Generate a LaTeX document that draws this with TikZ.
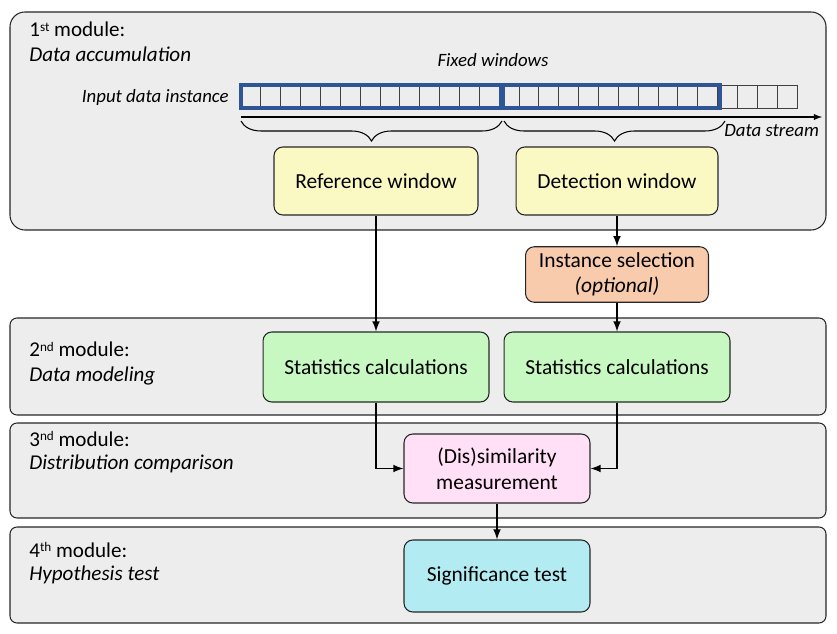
\documentclass[tikz,border=0pt]{standalone}
\usepackage{fontspec}
\setmainfont{Carlito}
\usetikzlibrary{decorations.pathreplacing}

\definecolor{modgray}{RGB}{237,237,237}
\definecolor{winblue}{RGB}{47,85,151}
\definecolor{refyellow}{RGB}{250,249,196}
\definecolor{selpeach}{RGB}{248,203,173}
\definecolor{statgreen}{RGB}{199,248,193}
\definecolor{dispink}{RGB}{255,224,246}
\definecolor{sigcyan}{RGB}{178,235,242}

\newcommand{\modsup}[1]{\raisebox{0.55ex}{\fontsize{7.5}{8}\selectfont #1}}

\tikzset{
    modbox/.style={draw=black!85, fill=modgray, line width=0.6pt},
    procbox/.style={draw=black!85, line width=0.6pt, rounded corners=5pt,
        align=center, font=\fontsize{12.2}{14.5}\selectfont},
    modtext/.style={anchor=base west, inner sep=0pt, font=\fontsize{12}{14}\selectfont},
    smalltext/.style={inner sep=0pt, font=\fontsize{10.7}{12}\selectfont\itshape},
    flow/.style={line width=1pt, -latex}
}

\begin{document}
\begin{tikzpicture}[x=0.02cm, y=-0.02cm]
\useasboundingbox (0,0) rectangle (837,634);

% module frames
\draw[modbox, rounded corners=8.5pt] (10,12) rectangle (826,230);
\draw[modbox, rounded corners=4pt] (10,318) rectangle (826,415);
\draw[modbox, rounded corners=4pt] (10,423) rectangle (826,518);
\draw[modbox, rounded corners=4pt] (10,527) rectangle (826,623);

\node[modtext] (m1a) at (29,37) {1\modsup{st} module:};
\node[modtext] (m1b) at (29,62) {\itshape Data accumulation};
\node[modtext] (m2a) at (29,357) {2\modsup{nd} module:};
\node[modtext] (m2b) at (29,381) {\itshape Data modeling};
\node[modtext] (m3a) at (29,446) {3\modsup{nd} module:};
\node[modtext] (m3b) at (29,469) {\itshape Distribution comparison};
\node[modtext] (m4a) at (29,557) {4\modsup{th} module:};
\node[modtext] (m4b) at (29,580) {\itshape Hypothesis test};

% data stream
\foreach \i in {0,...,27}
    \draw[draw=black!75, line width=0.5pt] ({241+\i*19.86},85) rectangle ++(19.86,23);
\draw[draw=winblue, line width=2.2pt] (241,85) rectangle (501,108);
\draw[draw=winblue, line width=2.2pt] (503,85) rectangle (720,108);

\node[smalltext, anchor=base east] (inp) at (229,103) {Input data instance};
\node[smalltext, anchor=base] (fix) at (493,67) {Fixed windows};
\node[smalltext, anchor=base west] (strm) at (724,137) {Data stream};

\coordinate (s0) at (241,117);
\coordinate (s1) at (822,117);
\draw[style=semithick, -latex] (s0)--(s1);

\draw[semithick, decorate, decoration={brace, mirror, amplitude=0.4cm}] (241,121) -- (502,121);
\draw[semithick, decorate, decoration={brace, mirror, amplitude=0.4cm}] (504,121) -- (725,121);

% boxes
\node[procbox, fill=refyellow, minimum width=4.08cm, minimum height=1.36cm] (ref) at (376,181) {Reference window};
\node[procbox, fill=refyellow, minimum width=4.04cm, minimum height=1.36cm] (det) at (617,181) {Detection window};
\node[procbox, fill=selpeach, minimum width=3.66cm, minimum height=1.02cm] (sel) at (617,274.5) {Instance selection\\ \itshape (optional)};
\node[procbox, fill=statgreen, minimum width=4.52cm, minimum height=1.4cm] (st1) at (376,367) {Statistics calculations};
\node[procbox, fill=statgreen, minimum width=4.52cm, minimum height=1.4cm] (st2) at (617,367) {Statistics calculations};
\node[procbox, fill=dispink, minimum width=3.72cm, minimum height=1.38cm] (dis) at (497,468.5) {(Dis)similarity\\ measurement};
\node[procbox, fill=sigcyan, minimum width=3.72cm, minimum height=1.44cm] (sig) at (497,576) {Significance test};

\draw[flow] (ref.south)--(st1.north);
\draw[flow] (det.south)--(sel.north);
\draw[flow] (sel.south)--(st2.north);
\draw[flow] (st1.south) |- (dis.west);
\draw[flow] (st2.south) |- (dis.east);
\draw[flow] (dis.south)--(sig.north);

\end{tikzpicture}
\end{document}
